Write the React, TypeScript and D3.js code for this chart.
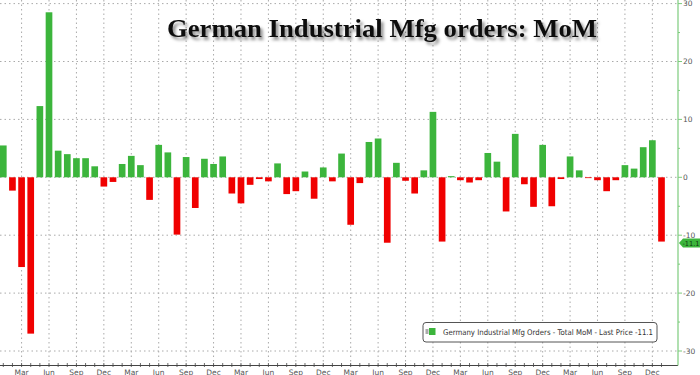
import React from "react";
import * as d3 from "d3";

// Monthly MoM % change, Jan 2020 .. Jan 2026
const values: number[] = [
  5.5, -2.3, -15.5, -27.0, 12.3, 28.5, 4.6, 4.0, 3.3, 3.3, 1.9, -1.6,
  -0.8, 2.3, 3.7, 2.1, -3.9, 5.6, 4.3, -9.9, 3.5, -5.3, 3.2, 2.3,
  3.6, -2.8, -4.5, -1.3, -0.3, -0.7, 2.4, -2.9, -2.4, 1.0, -3.7, 1.7,
  -0.7, 4.1, -8.2, -1.0, 6.1, 6.7, -11.3, 2.5, -0.6, -2.8, 1.2, 11.3,
  -11.1, 0.2, -0.5, -0.9, -0.5, 4.2, 2.7, -5.9, 7.5, -1.2, -5.1, 5.6,
  -5.0, -0.3, 3.6, 1.2, -0.1, -0.5, -2.4, -0.5, 2.1, 1.5, 5.2, 6.4,
  -11.1,
];
const months: Date[] = d3.timeMonths(new Date(2020, 0, 1), new Date(2026, 1, 1));
const yTicks: number[] = [30, 20, 10, 0, -10, -20, -30];
const yMinorTicks: number[] = [25, 15, 5, -5, -15, -25];
const quarterMonths: string[] = ["Mar", "Jun", "Sep", "Dec"];
const title = "German Industrial Mfg orders: MoM";
const legendText = "Germany Industrial Mfg Orders - Total MoM - Last Price -11.1";
const lastPrice = "-11.1";

const W = 700;
const H = 375;
const AXIS_X = 678;
const AXIS_Y = 365.5;
const GREEN = "#3cb53c";
const RED = "#f00000";

export default function App() {
  const idx = months.map((_, i) => i);
  const x = d3
    .scaleBand<number>()
    .domain(idx)
    .range([-1.27, 666.07])
    .paddingInner(0.27)
    .paddingOuter(0.135);
  const cx = (i: number) => (x(i) as number) + x.bandwidth() / 2;
  const y = d3.scaleLinear().domain([-30, 30]).range([351, 3.6]);
  const fmt = d3.timeFormat("%b");
  const qIdx = idx.filter((i) => quarterMonths.includes(fmt(months[i])));

  return (
    <svg
      width={W}
      height={H}
      style={{ position: "absolute", left: 0, top: 0, background: "#fff" }}
      fontFamily="'DejaVu Sans', sans-serif"
    >
      <defs>
        <filter id="tshadow" x="-10%" y="-30%" width="120%" height="180%">
          <feDropShadow dx="2.5" dy="3" stdDeviation="1.8" floodColor="#000" floodOpacity="0.45" />
        </filter>
      </defs>
      <rect x={0} y={0} width={W} height={H} fill="#fff" />
      {/* horizontal grid */}
      {yTicks.map((t) => (
        <line
          key={"hg" + t}
          x1={0}
          x2={AXIS_X}
          y1={y(t)}
          y2={y(t)}
          stroke="#aaa"
          strokeWidth={1}
          strokeDasharray="1.5,3"
        />
      ))}
      {/* vertical grid */}
      {qIdx.map((i) => (
        <line
          key={"vg" + i}
          x1={cx(i)}
          x2={cx(i)}
          y1={0}
          y2={AXIS_Y}
          stroke="#aaa"
          strokeWidth={1}
          strokeDasharray="1.5,3"
        />
      ))}
      {/* title */}
      <text
        x={167}
        y={37}
        fontFamily="'Liberation Serif', 'DejaVu Serif', serif"
        fontWeight="bold"
        fontSize={26}
        fill="#111"
        textLength={430}
        lengthAdjust="spacingAndGlyphs"
        filter="url(#tshadow)"
      >
        {title}
      </text>
      {/* bars */}
      {values.map((v, i) => (
        <rect
          key={"b" + i}
          x={x(i)}
          width={x.bandwidth()}
          y={Math.min(y(v), y(0))}
          height={Math.max(0.8, Math.abs(y(v) - y(0)))}
          fill={v >= 0 ? GREEN : RED}
        />
      ))}
      {/* bottom axis */}
      <line x1={0} x2={AXIS_X} y1={AXIS_Y} y2={AXIS_Y} stroke="#444" strokeWidth={1} />
      {idx.map((i) => (
        <line
          key={"xt" + i}
          x1={cx(i)}
          x2={cx(i)}
          y1={AXIS_Y - 2.5}
          y2={AXIS_Y + 1.5}
          stroke="#444"
          strokeWidth={0.8}
        />
      ))}
      {qIdx.map((i) => (
        <text key={"xl" + i} x={cx(i)} y={374.5} textAnchor="middle" fontSize={7.5} fill="#555">
          {fmt(months[i])}
        </text>
      ))}
      {/* right axis */}
      <line x1={AXIS_X} x2={AXIS_X} y1={0} y2={AXIS_Y} stroke="#7ccc7c" strokeWidth={1.2} />
      {yTicks.map((t) => (
        <g key={"yt" + t}>
          <line x1={AXIS_X} x2={AXIS_X + 4} y1={y(t)} y2={y(t)} stroke="#7ccc7c" strokeWidth={1} />
          <text x={AXIS_X + 5} y={y(t) + 2.8} fontSize={7.5} fill="#555">
            {t}
          </text>
        </g>
      ))}
      {yMinorTicks.map((t) => (
        <line key={"ym" + t} x1={AXIS_X} x2={AXIS_X + 2} y1={y(t)} y2={y(t)} stroke="#7ccc7c" strokeWidth={1} />
      ))}
      {/* last price tag */}
      {(() => {
        const ty = y(values[values.length - 1]) + 1.5;
        return (
          <g>
            <path
              d={`M${AXIS_X + 1},${ty} L${AXIS_X + 5},${ty - 4.5} L${W},${ty - 4.5} L${W},${ty + 4.5} L${AXIS_X + 5},${ty + 4.5} Z`}
              fill={GREEN}
            />
            <text
              x={AXIS_X + 4.5}
              y={ty + 2.5}
              fontSize={7}
              fill="#123812"
              textLength={17}
              lengthAdjust="spacingAndGlyphs"
            >
              {lastPrice}
            </text>
          </g>
        );
      })()}
      {/* legend */}
      <rect x={423} y={322.5} width={234} height={19.5} rx={3} fill="#fff" stroke="#555" strokeWidth={1} />
      <rect x={425.5} y={329} width={3} height={5} fill="#aaa" />
      <rect x={429} y={328} width={6.5} height={7} fill={GREEN} />
      <text
        x={443}
        y={335}
        fontSize={7.8}
        fill="#333"
        textLength={210}
        lengthAdjust="spacingAndGlyphs"
      >
        {legendText}
      </text>
    </svg>
  );
}
